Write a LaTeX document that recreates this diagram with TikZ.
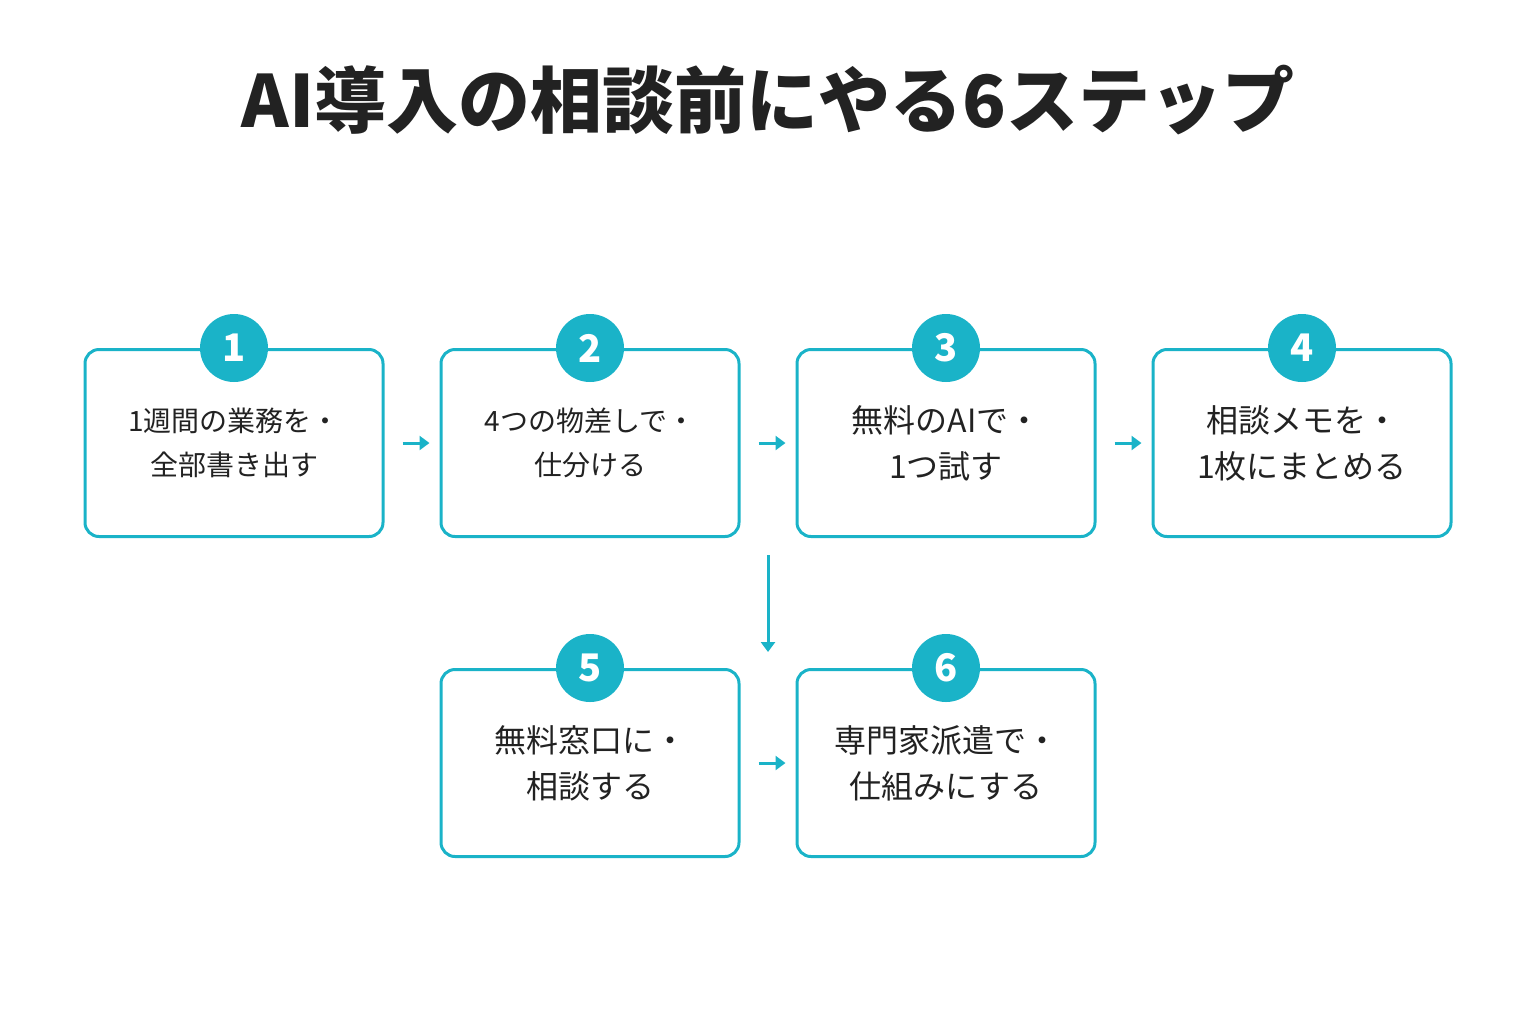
\documentclass[tikz,border=0pt]{standalone}
\usepackage{fontspec}
\setmainfont{Noto Sans CJK JP}
\usepackage{tikz}
\usetikzlibrary{positioning,calc,arrows.meta}
\definecolor{teal}{HTML}{1AB3C8}
\definecolor{ink}{HTML}{222222}
\tikzset{
  stepbox/.style={draw=teal, line width=1.5pt, rounded corners=7pt, minimum width=149pt,
    minimum height=93.5pt, align=center, text=ink, font=\fontsize{16}{23}\selectfont},
  small/.style={font=\fontsize{14}{22}\selectfont},
  num/.style={circle, fill=teal, minimum size=34pt, inner sep=0pt, text=white,
    font=\bfseries\fontsize{19}{19}\selectfont},
  flow/.style={-{Triangle[length=5pt,width=7pt]}, draw=teal, line width=1.5pt}
}
\begin{document}
\begin{tikzpicture}[x=0.5pt,y=-0.5pt]
  \useasboundingbox (0,0) rectangle (1536,1024);
  % title
  \node[text=ink, font=\bfseries\fontsize{36}{36}\selectfont] (title) at (768,100) {AI導入の相談前にやる6ステップ};

  % steps
  \node[stepbox, small] (s1) at (234,443) {1週間の業務を・\\全部書き出す};
  \node[stepbox, small] (s2) at (590,443) {4つの物差しで・\\仕分ける};
  \node[stepbox] (s3) at (946,443) {無料のAIで・\\1つ試す};
  \node[stepbox] (s4) at (1302,443) {相談メモを・\\1枚にまとめる};
  \node[stepbox] (s5) at (590,763) {無料窓口に・\\相談する};
  \node[stepbox] (s6) at (946,763) {専門家派遣で・\\仕組みにする};

  % numbers
  \foreach \i in {1,...,6}
    \node[num] (n\i) at (s\i.north) {\i};

  % connectors
  \draw[flow, shorten <=9pt, shorten >=5pt] (s1) -- (s2);
  \draw[flow, shorten <=9pt, shorten >=5pt] (s2) -- (s3);
  \draw[flow, shorten <=9pt, shorten >=5pt] (s3) -- (s4);
  \draw[flow, shorten <=9pt, shorten >=5pt] (s5) -- (s6);
  \coordinate (d1) at (768,555);
  \coordinate (d2) at (768,652);
  \draw[flow] (d1) -- (d2);
\end{tikzpicture}
\end{document}
